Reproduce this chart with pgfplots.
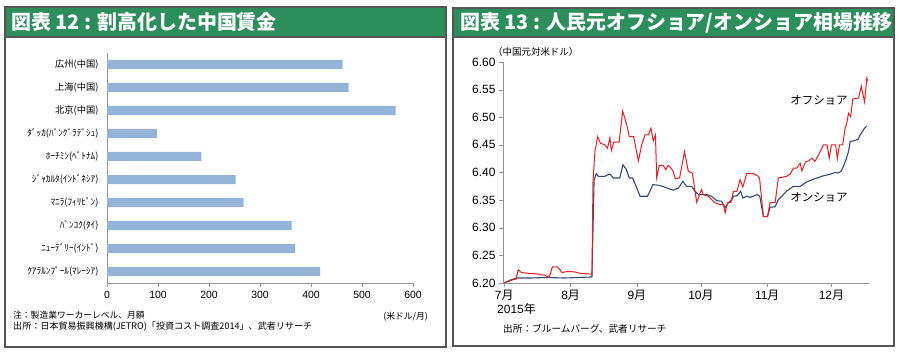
\documentclass[border=0pt]{standalone}
\usepackage{fontspec}
\setmainfont{Liberation Sans}
\newfontfamily\jp{Noto Sans CJK JP}
\usepackage{pgfplots}
\usepackage{pgfplotstable}
\pgfplotsset{compat=1.18}
\definecolor{hdr}{RGB}{44,142,92}
\definecolor{frm}{RGB}{85,85,85}
\definecolor{barc}{RGB}{149,179,215}
\definecolor{offc}{RGB}{236,28,36}
\definecolor{onc}{RGB}{52,74,118}
\definecolor{axc}{RGB}{150,150,150}

\pgfplotstableread{
day val
0 6.200
2 6.204
4 6.207
6 6.209
12 6.209
20 6.210
28 6.209
35 6.210
41 6.211
42 6.386
43 6.398
44 6.393
47 6.393
48.5 6.396
49.5 6.397
51 6.390
54 6.390
55.5 6.414
57 6.406
58.5 6.390
60 6.390
62 6.372
63.5 6.357
67 6.357
69.5 6.378
72 6.377
74 6.375
76 6.372
79 6.368
81.5 6.372
83.5 6.384
85.3 6.375
87.6 6.375
89.2 6.366
90.8 6.360
94.7 6.360
97 6.357
99.4 6.349
101.7 6.348
103.3 6.336
104.8 6.345
106.4 6.351
107.2 6.357
109 6.358
110.5 6.366
111.6 6.354
113.5 6.357
115 6.355
118.3 6.360
119.5 6.357
121.2 6.320
123.1 6.320
124.3 6.337
126.7 6.338
128.2 6.351
129.8 6.357
132 6.366
135.2 6.375
138.4 6.375
141.5 6.383
145.4 6.389
149.3 6.394
152.5 6.397
154.8 6.400
156 6.399
157.5 6.402
158.6 6.411
160 6.425
161 6.438
161.8 6.456
164 6.458
165.5 6.460
166.5 6.468
168.5 6.480
169.6 6.484
}\onshore

\pgfplotstableread{
day val
0 6.200
2 6.203
4 6.206
5.5 6.207
6.5 6.224
8 6.219
10 6.218
13 6.217
16 6.216
19 6.214
21 6.210
22.5 6.229
25 6.229
27 6.219
30 6.221
33 6.220
36 6.217
41 6.216
41.5 6.384
42.4 6.438
43.7 6.465
45 6.453
47 6.450
48.3 6.444
49.4 6.463
50.1 6.440
51.2 6.455
53.7 6.455
55.4 6.511
57.3 6.486
58.5 6.465
60.5 6.465
62.7 6.421
64.3 6.450
65.8 6.468
67.4 6.468
68.6 6.480
69.7 6.457
70.7 6.468
71.3 6.390
72.5 6.413
74.3 6.413
75.6 6.405
76.6 6.413
78 6.408
79 6.402
80 6.389
82 6.390
84.3 6.438
86.1 6.402
88 6.399
90 6.346
91.6 6.363
92.3 6.369
93 6.360
95.5 6.357
97 6.351
98.6 6.345
101 6.342
102.5 6.342
103.3 6.327
104.4 6.345
106 6.346
107.2 6.366
108.8 6.366
110.3 6.387
111.6 6.374
113.4 6.398
116.6 6.398
118.5 6.394
119.4 6.390
121.2 6.320
123.1 6.320
124.3 6.345
126.7 6.346
128.2 6.390
132 6.393
133.7 6.397
135.3 6.408
136.8 6.408
138.4 6.417
139.2 6.403
140.9 6.419
142.5 6.421
143.9 6.426
145.3 6.420
147.4 6.435
149.3 6.450
151 6.450
152 6.426
153 6.450
155 6.450
155.8 6.425
156.8 6.450
158.3 6.450
159.4 6.480
160.2 6.489
161 6.507
162 6.501
163 6.533
165.7 6.535
167 6.556
168.5 6.528
169.6 6.571
170 6.566
}\offshore

\begin{document}
\begin{tikzpicture}
\useasboundingbox (0,0) rectangle (900bp,353bp);
\fill[white] (0,0) rectangle (900bp,353bp);
% ---------- left panel ----------
\fill[hdr] (5bp,316bp) rectangle (446bp,346bp);
\draw[frm, line width=1.3bp] (5bp,6bp) rectangle (446bp,346bp);
\draw[frm, line width=1.3bp] (5bp,316bp) -- (446bp,316bp);
\node[anchor=west, text=white, font=\jp\bfseries\fontsize{20}{22}\selectfont, inner sep=0] at (11bp,331bp) {図表 12 : 割高化した中国賃金};

\begin{axis}[
  at={(107bp,70bp)}, anchor=south west,
  scale only axis, width=306bp, height=230bp,
  xbar, bar width=9bp,
  xmin=0, xmax=600, ymin=-0.5, ymax=9.5, y dir=reverse,
  axis x line*=bottom, axis y line*=left,
  axis line style={axc,-},
  xtick={0,100,...,600},
  ytick={0,...,9},
  yticklabels={広州(中国),上海(中国),北京(中国),ﾀﾞｯｶ(ﾊﾞﾝｸﾞﾗﾃﾞｼｭ),ﾎｰﾁﾐﾝ(ﾍﾞﾄﾅﾑ),ｼﾞｬｶﾙﾀ(ｲﾝﾄﾞﾈｼｱ),ﾏﾆﾗ(ﾌｨﾘﾋﾟﾝ),ﾊﾞﾝｺｸ(ﾀｲ),ﾆｭｰﾃﾞﾘｰ(ｲﾝﾄﾞ),ｸｱﾗﾙﾝﾌﾟｰﾙ(ﾏﾚｰｼｱ)},
  tick align=outside, major tick length=4bp,
  tick style={axc},
  ytick style={draw=none},
  yticklabel style={font=\jp\fontsize{9.3}{10}\selectfont, xshift=-1bp},
  xticklabel style={font=\fontsize{10.5}{12}\selectfont, yshift=-1bp},
  /pgf/number format/assume math mode=true,
]
\addplot[fill=barc, draw=none] coordinates {(462,0) (474,1) (566,2) (98,3) (185,4) (252,5) (268,6) (362,7) (369,8) (418,9)};
\end{axis}
\node[anchor=west, inner sep=0, font=\jp\fontsize{8.8}{10}\selectfont] at (13bp,38bp) {注：製造業ワーカーレベル、月額};
\node[anchor=west, inner sep=0, font=\jp\fontsize{9.1}{10}\selectfont] at (13bp,26bp) {出所：日本貿易振興機構(JETRO)「投資コスト調査2014」、武者リサーチ};
\node[anchor=east, inner sep=0, font=\jp\fontsize{8.8}{10}\selectfont] at (428bp,36bp) {(米ドル/月)};

% ---------- right panel ----------
\fill[hdr] (453bp,316bp) rectangle (894bp,345bp);
\draw[frm, line width=1.3bp] (453bp,7bp) rectangle (894bp,345bp);
\draw[frm, line width=1.3bp] (453bp,316bp) -- (894bp,316bp);
\node[anchor=west, text=white, font=\jp\bfseries\fontsize{20}{22}\selectfont, inner sep=0] at (460bp,330.5bp) {図表 13 : 人民元オフショア/オンショア相場推移};

\begin{axis}[
  at={(503bp,70bp)}, anchor=south west,
  scale only axis, width=366bp, height=221bp,
  xmin=-0.6, xmax=170.6, ymin=6.2, ymax=6.6,
  axis x line*=bottom, axis y line*=left,
  axis line style={axc,-},
  ytick={6.20,6.25,6.30,6.35,6.40,6.45,6.50,6.55,6.60},
  yticklabel style={/pgf/number format/.cd, fixed, fixed zerofill, precision=2},
  xtick={0,31,62,92,123,153},
  xticklabels={7{\jp 月},8{\jp 月},9{\jp 月},10{\jp 月},11{\jp 月},12{\jp 月}},
  tick align=outside, major tick length=4bp,
  tick style={axc},
  ticklabel style={font=\fontsize{12}{14}\selectfont},
  /pgf/number format/assume math mode=true,
]
\addplot[onc, line width=1.1bp] table[x=day, y=val] {\onshore};
\addplot[offc, line width=1.0bp] table[x=day, y=val] {\offshore};
\end{axis}
\node[anchor=west, inner sep=0, font=\fontsize{12}{14}\selectfont] at (497bp,44bp) {2015{\jp 年}};
\node[anchor=west, inner sep=0, font=\jp\fontsize{9.5}{11}\selectfont] at (493bp,301bp) {（中国元対米ドル）};
\node[inner sep=0, font=\jp\fontsize{11.5}{13}\selectfont] at (819bp,253bp) {オフショア};
\node[inner sep=0, font=\jp\fontsize{11.5}{13}\selectfont] at (819bp,155.5bp) {オンショア};
\node[anchor=west, inner sep=0, font=\jp\fontsize{9.7}{11}\selectfont] at (503bp,24bp) {出所：ブルームバーグ、武者リサーチ};
\end{tikzpicture}
\end{document}
